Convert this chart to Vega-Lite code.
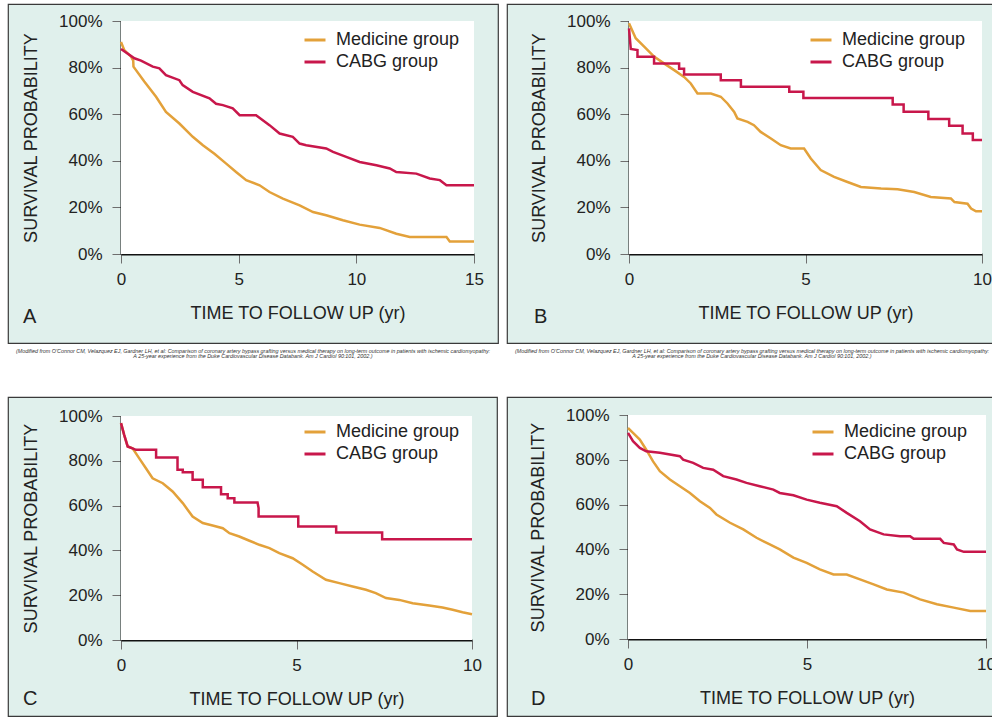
{
  "$schema": "https://vega.github.io/schema/vega-lite/v6.json",
  "background": "white",
  "padding": {"left": 7, "top": 3, "right": -3, "bottom": 0},
  "config": {
    "view": {"fill": "#e0f0ec", "stroke": "#3a3a3a", "strokeWidth": 1.2},
    "font": "Liberation Sans",
    "axis": {"grid": false, "domainColor": "#111111", "domainWidth": 2, "tickColor": "#6e6e6e", "tickWidth": 1, "tickSize": 9, "labelFont": "Liberation Sans", "labelFontSize": 17, "labelColor": "#222222", "titleFont": "Liberation Sans", "titleFontSize": 18, "titleFontWeight": "normal", "titleColor": "#222222", "labelFlush": false, "labelOverlap": false},
    "axisX": {"labelPadding": 8, "titlePadding": 17},
    "axisY": {"labelPadding": 10, "titlePadding": 18},
    "legend": {"title": null, "orient": "none", "symbolType": "stroke", "symbolSize": 441, "symbolStrokeWidth": 3, "labelFont": "Liberation Sans", "labelFontSize": 18, "labelColor": "#222222", "labelOffset": 9, "rowPadding": 1, "padding": 0}
  },
  "datasets": {
    "A": [
      {"group": "Medicine group", "t": 0, "s": 0.91}, {"group": "Medicine group", "t": 0.14, "s": 0.875}, {"group": "Medicine group", "t": 0.43, "s": 0.847}, {"group": "Medicine group", "t": 0.52, "s": 0.83}, {"group": "Medicine group", "t": 0.53, "s": 0.804}, {"group": "Medicine group", "t": 0.99, "s": 0.74}, {"group": "Medicine group", "t": 1.49, "s": 0.675}, {"group": "Medicine group", "t": 1.91, "s": 0.61}, {"group": "Medicine group", "t": 2.48, "s": 0.56}, {"group": "Medicine group", "t": 3.05, "s": 0.503}, {"group": "Medicine group", "t": 3.48, "s": 0.467}, {"group": "Medicine group", "t": 3.97, "s": 0.43}, {"group": "Medicine group", "t": 4.47, "s": 0.388}, {"group": "Medicine group", "t": 4.89, "s": 0.352}, {"group": "Medicine group", "t": 5.32, "s": 0.317}, {"group": "Medicine group", "t": 5.89, "s": 0.295}, {"group": "Medicine group", "t": 6.31, "s": 0.266}, {"group": "Medicine group", "t": 6.88, "s": 0.238}, {"group": "Medicine group", "t": 7.59, "s": 0.209}, {"group": "Medicine group", "t": 8.16, "s": 0.18}, {"group": "Medicine group", "t": 8.72, "s": 0.166}, {"group": "Medicine group", "t": 9.43, "s": 0.145}, {"group": "Medicine group", "t": 10.14, "s": 0.126}, {"group": "Medicine group", "t": 10.99, "s": 0.112}, {"group": "Medicine group", "t": 11.7, "s": 0.087}, {"group": "Medicine group", "t": 12.27, "s": 0.073}, {"group": "Medicine group", "t": 13.83, "s": 0.073}, {"group": "Medicine group", "t": 13.97, "s": 0.054}, {"group": "Medicine group", "t": 15, "s": 0.054},
      {"group": "CABG group", "t": 0, "s": 0.88}, {"group": "CABG group", "t": 0.57, "s": 0.84}, {"group": "CABG group", "t": 0.85, "s": 0.83}, {"group": "CABG group", "t": 1.35, "s": 0.804}, {"group": "CABG group", "t": 1.63, "s": 0.797}, {"group": "CABG group", "t": 1.91, "s": 0.768}, {"group": "CABG group", "t": 2.48, "s": 0.746}, {"group": "CABG group", "t": 2.62, "s": 0.725}, {"group": "CABG group", "t": 3.05, "s": 0.696}, {"group": "CABG group", "t": 3.76, "s": 0.668}, {"group": "CABG group", "t": 4.04, "s": 0.645}, {"group": "CABG group", "t": 4.33, "s": 0.639}, {"group": "CABG group", "t": 4.75, "s": 0.625}, {"group": "CABG group", "t": 5.04, "s": 0.596}, {"group": "CABG group", "t": 5.74, "s": 0.596}, {"group": "CABG group", "t": 6.31, "s": 0.553}, {"group": "CABG group", "t": 6.74, "s": 0.517}, {"group": "CABG group", "t": 7.3, "s": 0.503}, {"group": "CABG group", "t": 7.59, "s": 0.474}, {"group": "CABG group", "t": 7.87, "s": 0.467}, {"group": "CABG group", "t": 8.72, "s": 0.453}, {"group": "CABG group", "t": 9.01, "s": 0.438}, {"group": "CABG group", "t": 9.57, "s": 0.417}, {"group": "CABG group", "t": 10.14, "s": 0.395}, {"group": "CABG group", "t": 10.85, "s": 0.381}, {"group": "CABG group", "t": 11.42, "s": 0.367}, {"group": "CABG group", "t": 11.7, "s": 0.352}, {"group": "CABG group", "t": 12.55, "s": 0.345}, {"group": "CABG group", "t": 13.12, "s": 0.324}, {"group": "CABG group", "t": 13.55, "s": 0.317}, {"group": "CABG group", "t": 13.83, "s": 0.295}, {"group": "CABG group", "t": 15, "s": 0.295}
    ],
    "B": [
      {"group": "Medicine group", "t": 0, "s": 0.99}, {"group": "Medicine group", "t": 0.19, "s": 0.926}, {"group": "Medicine group", "t": 0.43, "s": 0.89}, {"group": "Medicine group", "t": 0.71, "s": 0.847}, {"group": "Medicine group", "t": 0.99, "s": 0.818}, {"group": "Medicine group", "t": 1.28, "s": 0.789}, {"group": "Medicine group", "t": 1.56, "s": 0.76}, {"group": "Medicine group", "t": 1.75, "s": 0.732}, {"group": "Medicine group", "t": 1.94, "s": 0.689}, {"group": "Medicine group", "t": 2.32, "s": 0.689}, {"group": "Medicine group", "t": 2.6, "s": 0.675}, {"group": "Medicine group", "t": 2.79, "s": 0.646}, {"group": "Medicine group", "t": 2.98, "s": 0.61}, {"group": "Medicine group", "t": 3.07, "s": 0.582}, {"group": "Medicine group", "t": 3.36, "s": 0.567}, {"group": "Medicine group", "t": 3.54, "s": 0.553}, {"group": "Medicine group", "t": 3.73, "s": 0.524}, {"group": "Medicine group", "t": 4.02, "s": 0.496}, {"group": "Medicine group", "t": 4.3, "s": 0.467}, {"group": "Medicine group", "t": 4.58, "s": 0.453}, {"group": "Medicine group", "t": 4.96, "s": 0.453}, {"group": "Medicine group", "t": 5.15, "s": 0.41}, {"group": "Medicine group", "t": 5.43, "s": 0.36}, {"group": "Medicine group", "t": 5.81, "s": 0.331}, {"group": "Medicine group", "t": 6.19, "s": 0.309}, {"group": "Medicine group", "t": 6.57, "s": 0.288}, {"group": "Medicine group", "t": 7.14, "s": 0.281}, {"group": "Medicine group", "t": 7.61, "s": 0.278}, {"group": "Medicine group", "t": 8.08, "s": 0.266}, {"group": "Medicine group", "t": 8.55, "s": 0.245}, {"group": "Medicine group", "t": 9.12, "s": 0.238}, {"group": "Medicine group", "t": 9.22, "s": 0.223}, {"group": "Medicine group", "t": 9.59, "s": 0.216}, {"group": "Medicine group", "t": 9.69, "s": 0.195}, {"group": "Medicine group", "t": 9.83, "s": 0.183}, {"group": "Medicine group", "t": 10, "s": 0.183},
      {"group": "CABG group", "t": 0, "s": 0.968}, {"group": "CABG group", "t": 0.05, "s": 0.88}, {"group": "CABG group", "t": 0.24, "s": 0.875}, {"group": "CABG group", "t": 0.24, "s": 0.847}, {"group": "CABG group", "t": 0.71, "s": 0.847}, {"group": "CABG group", "t": 0.71, "s": 0.818}, {"group": "CABG group", "t": 1.42, "s": 0.818}, {"group": "CABG group", "t": 1.42, "s": 0.795}, {"group": "CABG group", "t": 1.56, "s": 0.795}, {"group": "CABG group", "t": 1.56, "s": 0.77}, {"group": "CABG group", "t": 2.6, "s": 0.77}, {"group": "CABG group", "t": 2.6, "s": 0.746}, {"group": "CABG group", "t": 3.17, "s": 0.746}, {"group": "CABG group", "t": 3.17, "s": 0.718}, {"group": "CABG group", "t": 4.54, "s": 0.718}, {"group": "CABG group", "t": 4.54, "s": 0.696}, {"group": "CABG group", "t": 4.94, "s": 0.696}, {"group": "CABG group", "t": 4.94, "s": 0.67}, {"group": "CABG group", "t": 7.47, "s": 0.67}, {"group": "CABG group", "t": 7.47, "s": 0.642}, {"group": "CABG group", "t": 7.78, "s": 0.642}, {"group": "CABG group", "t": 7.78, "s": 0.61}, {"group": "CABG group", "t": 8.48, "s": 0.61}, {"group": "CABG group", "t": 8.48, "s": 0.579}, {"group": "CABG group", "t": 9.07, "s": 0.579}, {"group": "CABG group", "t": 9.07, "s": 0.55}, {"group": "CABG group", "t": 9.45, "s": 0.55}, {"group": "CABG group", "t": 9.45, "s": 0.517}, {"group": "CABG group", "t": 9.74, "s": 0.517}, {"group": "CABG group", "t": 9.74, "s": 0.489}, {"group": "CABG group", "t": 10, "s": 0.489}
    ],
    "C": [
      {"group": "Medicine group", "t": 0, "s": 0.968}, {"group": "Medicine group", "t": 0.09, "s": 0.916}, {"group": "Medicine group", "t": 0.19, "s": 0.864}, {"group": "Medicine group", "t": 0.33, "s": 0.856}, {"group": "Medicine group", "t": 0.52, "s": 0.811}, {"group": "Medicine group", "t": 0.71, "s": 0.767}, {"group": "Medicine group", "t": 0.9, "s": 0.722}, {"group": "Medicine group", "t": 1.19, "s": 0.7}, {"group": "Medicine group", "t": 1.47, "s": 0.663}, {"group": "Medicine group", "t": 1.76, "s": 0.611}, {"group": "Medicine group", "t": 2.04, "s": 0.551}, {"group": "Medicine group", "t": 2.33, "s": 0.522}, {"group": "Medicine group", "t": 2.61, "s": 0.511}, {"group": "Medicine group", "t": 2.9, "s": 0.499}, {"group": "Medicine group", "t": 3.09, "s": 0.477}, {"group": "Medicine group", "t": 3.37, "s": 0.462}, {"group": "Medicine group", "t": 3.66, "s": 0.443}, {"group": "Medicine group", "t": 3.94, "s": 0.425}, {"group": "Medicine group", "t": 4.23, "s": 0.41}, {"group": "Medicine group", "t": 4.51, "s": 0.388}, {"group": "Medicine group", "t": 4.89, "s": 0.365}, {"group": "Medicine group", "t": 5.18, "s": 0.336}, {"group": "Medicine group", "t": 5.46, "s": 0.306}, {"group": "Medicine group", "t": 5.84, "s": 0.269}, {"group": "Medicine group", "t": 6.22, "s": 0.254}, {"group": "Medicine group", "t": 6.6, "s": 0.239}, {"group": "Medicine group", "t": 6.98, "s": 0.224}, {"group": "Medicine group", "t": 7.26, "s": 0.209}, {"group": "Medicine group", "t": 7.55, "s": 0.187}, {"group": "Medicine group", "t": 7.93, "s": 0.179}, {"group": "Medicine group", "t": 8.31, "s": 0.164}, {"group": "Medicine group", "t": 8.78, "s": 0.154}, {"group": "Medicine group", "t": 9.16, "s": 0.145}, {"group": "Medicine group", "t": 9.45, "s": 0.135}, {"group": "Medicine group", "t": 9.73, "s": 0.124}, {"group": "Medicine group", "t": 10, "s": 0.115},
      {"group": "CABG group", "t": 0, "s": 0.968}, {"group": "CABG group", "t": 0.09, "s": 0.916}, {"group": "CABG group", "t": 0.19, "s": 0.864}, {"group": "CABG group", "t": 0.43, "s": 0.849}, {"group": "CABG group", "t": 1.0, "s": 0.849}, {"group": "CABG group", "t": 1.0, "s": 0.815}, {"group": "CABG group", "t": 1.61, "s": 0.815}, {"group": "CABG group", "t": 1.61, "s": 0.76}, {"group": "CABG group", "t": 1.76, "s": 0.76}, {"group": "CABG group", "t": 1.76, "s": 0.749}, {"group": "CABG group", "t": 2.04, "s": 0.749}, {"group": "CABG group", "t": 2.04, "s": 0.715}, {"group": "CABG group", "t": 2.33, "s": 0.715}, {"group": "CABG group", "t": 2.33, "s": 0.682}, {"group": "CABG group", "t": 2.85, "s": 0.682}, {"group": "CABG group", "t": 2.85, "s": 0.651}, {"group": "CABG group", "t": 3.04, "s": 0.651}, {"group": "CABG group", "t": 3.04, "s": 0.633}, {"group": "CABG group", "t": 3.23, "s": 0.633}, {"group": "CABG group", "t": 3.23, "s": 0.614}, {"group": "CABG group", "t": 3.89, "s": 0.614}, {"group": "CABG group", "t": 3.92, "s": 0.589}, {"group": "CABG group", "t": 3.92, "s": 0.551}, {"group": "CABG group", "t": 5.05, "s": 0.551}, {"group": "CABG group", "t": 5.05, "s": 0.507}, {"group": "CABG group", "t": 6.13, "s": 0.507}, {"group": "CABG group", "t": 6.13, "s": 0.48}, {"group": "CABG group", "t": 7.44, "s": 0.48}, {"group": "CABG group", "t": 7.44, "s": 0.45}, {"group": "CABG group", "t": 10, "s": 0.45}
    ],
    "D": [
      {"group": "Medicine group", "t": 0, "s": 0.942}, {"group": "Medicine group", "t": 0.14, "s": 0.92}, {"group": "Medicine group", "t": 0.33, "s": 0.89}, {"group": "Medicine group", "t": 0.51, "s": 0.845}, {"group": "Medicine group", "t": 0.7, "s": 0.793}, {"group": "Medicine group", "t": 0.89, "s": 0.749}, {"group": "Medicine group", "t": 1.17, "s": 0.712}, {"group": "Medicine group", "t": 1.45, "s": 0.682}, {"group": "Medicine group", "t": 1.73, "s": 0.652}, {"group": "Medicine group", "t": 2.01, "s": 0.615}, {"group": "Medicine group", "t": 2.29, "s": 0.585}, {"group": "Medicine group", "t": 2.47, "s": 0.556}, {"group": "Medicine group", "t": 2.85, "s": 0.519}, {"group": "Medicine group", "t": 3.22, "s": 0.489}, {"group": "Medicine group", "t": 3.59, "s": 0.452}, {"group": "Medicine group", "t": 3.96, "s": 0.422}, {"group": "Medicine group", "t": 4.24, "s": 0.4}, {"group": "Medicine group", "t": 4.62, "s": 0.363}, {"group": "Medicine group", "t": 4.99, "s": 0.34}, {"group": "Medicine group", "t": 5.36, "s": 0.311}, {"group": "Medicine group", "t": 5.74, "s": 0.288}, {"group": "Medicine group", "t": 6.11, "s": 0.288}, {"group": "Medicine group", "t": 6.48, "s": 0.266}, {"group": "Medicine group", "t": 6.86, "s": 0.244}, {"group": "Medicine group", "t": 7.23, "s": 0.221}, {"group": "Medicine group", "t": 7.7, "s": 0.207}, {"group": "Medicine group", "t": 8.16, "s": 0.177}, {"group": "Medicine group", "t": 8.63, "s": 0.155}, {"group": "Medicine group", "t": 9.1, "s": 0.14}, {"group": "Medicine group", "t": 9.56, "s": 0.125}, {"group": "Medicine group", "t": 10, "s": 0.125},
      {"group": "CABG group", "t": 0, "s": 0.92}, {"group": "CABG group", "t": 0.14, "s": 0.883}, {"group": "CABG group", "t": 0.33, "s": 0.853}, {"group": "CABG group", "t": 0.51, "s": 0.838}, {"group": "CABG group", "t": 0.89, "s": 0.831}, {"group": "CABG group", "t": 1.45, "s": 0.816}, {"group": "CABG group", "t": 1.54, "s": 0.801}, {"group": "CABG group", "t": 1.82, "s": 0.786}, {"group": "CABG group", "t": 2.1, "s": 0.764}, {"group": "CABG group", "t": 2.38, "s": 0.756}, {"group": "CABG group", "t": 2.66, "s": 0.727}, {"group": "CABG group", "t": 3.03, "s": 0.712}, {"group": "CABG group", "t": 3.31, "s": 0.697}, {"group": "CABG group", "t": 3.68, "s": 0.682}, {"group": "CABG group", "t": 4.06, "s": 0.667}, {"group": "CABG group", "t": 4.24, "s": 0.652}, {"group": "CABG group", "t": 4.62, "s": 0.642}, {"group": "CABG group", "t": 4.99, "s": 0.622}, {"group": "CABG group", "t": 5.36, "s": 0.608}, {"group": "CABG group", "t": 5.83, "s": 0.593}, {"group": "CABG group", "t": 6.11, "s": 0.563}, {"group": "CABG group", "t": 6.48, "s": 0.526}, {"group": "CABG group", "t": 6.76, "s": 0.489}, {"group": "CABG group", "t": 7.14, "s": 0.467}, {"group": "CABG group", "t": 7.6, "s": 0.459}, {"group": "CABG group", "t": 7.88, "s": 0.459}, {"group": "CABG group", "t": 7.98, "s": 0.447}, {"group": "CABG group", "t": 8.72, "s": 0.447}, {"group": "CABG group", "t": 8.82, "s": 0.429}, {"group": "CABG group", "t": 9.1, "s": 0.422}, {"group": "CABG group", "t": 9.19, "s": 0.4}, {"group": "CABG group", "t": 9.38, "s": 0.389}, {"group": "CABG group", "t": 10, "s": 0.389}
    ]
  },
  "spacing": 36,
  "resolve": {"scale": {"color": "independent", "x": "independent", "y": "independent"}, "legend": {"color": "independent"}},
  "vconcat": [
    {
      "spacing": 7,
      "resolve": {"scale": {"color": "independent", "x": "independent", "y": "independent"}, "legend": {"color": "independent"}},
      "hconcat": [
        {
          "title": {"text": ["(Modified from O'Connor CM, Velazquez EJ, Gardner LH, et al: Comparison of coronary artery bypass grafting versus medical therapy on long-term outcome in patients with ischemic cardiomyopathy:", "A 25-year experience from the Duke Cardiovascular Disease Databank. Am J Cardiol 90:101, 2002.)"], "orient": "bottom", "anchor": "middle", "frame": "bounds", "offset": 5, "font": "Liberation Sans", "fontSize": 5.4, "fontStyle": "italic", "fontWeight": "normal", "lineHeight": 5.5, "color": "#333333"},
          "vconcat": [
            {
              "width": 490, "height": 339,
              "title": {"text": "A", "orient": "bottom", "anchor": "start", "frame": "group", "offset": -36, "dx": 15, "font": "Liberation Sans", "fontSize": 20, "fontWeight": "normal", "color": "#222222"},
              "layer": [
                {"data": {"values": [{}]}, "mark": {"type": "rect", "fill": "white"}, "encoding": {"x": {"datum": 0, "type": "quantitative"}, "x2": {"datum": 15}, "y": {"datum": 0, "type": "quantitative"}, "y2": {"datum": 1}}},
                {"data": {"name": "A"}, "mark": {"type": "line", "strokeWidth": 2.5},
                 "encoding": {
                   "x": {"field": "t", "type": "quantitative", "scale": {"domain": [0, 15], "range": [113, 466], "nice": false, "zero": false}, "axis": {"title": "TIME TO FOLLOW UP (yr)", "values": [0, 5, 10, 15], "offset": -89}},
                   "y": {"field": "s", "type": "quantitative", "scale": {"domain": [0, 1], "range": [250, 17], "nice": false}, "axis": {"title": "SURVIVAL PROBABILITY", "values": [0, 0.2, 0.4, 0.6, 0.8, 1], "format": ".0%", "offset": -113}},
                   "color": {"field": "group", "type": "nominal", "scale": {"domain": ["Medicine group", "CABG group"], "range": ["#e3a13a", "#c8174b"]}, "legend": {"legendX": 295, "legendY": 24}}
                 }}
              ]
            }
          ]
        },
        {
          "title": {"text": ["(Modified from O'Connor CM, Velazquez EJ, Gardner LH, et al: Comparison of coronary artery bypass grafting versus medical therapy on long-term outcome in patients with ischemic cardiomyopathy:", "A 25-year experience from the Duke Cardiovascular Disease Databank. Am J Cardiol 90:101, 2002.)"], "orient": "bottom", "anchor": "middle", "frame": "bounds", "offset": 5, "font": "Liberation Sans", "fontSize": 5.4, "fontStyle": "italic", "fontWeight": "normal", "lineHeight": 5.5, "color": "#333333"},
          "vconcat": [
            {
              "width": 490, "height": 339,
              "title": {"text": "B", "orient": "bottom", "anchor": "start", "frame": "group", "offset": -36, "dx": 27, "font": "Liberation Sans", "fontSize": 20, "fontWeight": "normal", "color": "#222222"},
              "layer": [
                {"data": {"values": [{}]}, "mark": {"type": "rect", "fill": "white"}, "encoding": {"x": {"datum": 0, "type": "quantitative"}, "x2": {"datum": 10}, "y": {"datum": 0, "type": "quantitative"}, "y2": {"datum": 1}}},
                {"data": {"name": "B"}, "mark": {"type": "line", "strokeWidth": 2.5},
                 "encoding": {
                   "x": {"field": "t", "type": "quantitative", "scale": {"domain": [0, 10], "range": [122, 475], "nice": false, "zero": false}, "axis": {"title": "TIME TO FOLLOW UP (yr)", "values": [0, 5, 10], "offset": -89}},
                   "y": {"field": "s", "type": "quantitative", "scale": {"domain": [0, 1], "range": [250, 17], "nice": false}, "axis": {"title": "SURVIVAL PROBABILITY", "values": [0, 0.2, 0.4, 0.6, 0.8, 1], "format": ".0%", "offset": -122}},
                   "color": {"field": "group", "type": "nominal", "scale": {"domain": ["Medicine group", "CABG group"], "range": ["#e3a13a", "#c8174b"]}, "legend": {"legendX": 302, "legendY": 24}}
                 }}
              ]
            }
          ]
        }
      ]
    },
    {
      "spacing": 8,
      "resolve": {"scale": {"color": "independent", "x": "independent", "y": "independent"}, "legend": {"color": "independent"}},
      "hconcat": [
        {
          "width": 489, "height": 319,
          "title": {"text": "C", "orient": "bottom", "anchor": "start", "frame": "group", "offset": -27, "dx": 15, "font": "Liberation Sans", "fontSize": 20, "fontWeight": "normal", "color": "#222222"},
          "layer": [
            {"data": {"values": [{}]}, "mark": {"type": "rect", "fill": "white"}, "encoding": {"x": {"datum": 0, "type": "quantitative"}, "x2": {"datum": 10}, "y": {"datum": 0, "type": "quantitative"}, "y2": {"datum": 1}}},
            {"data": {"name": "C"}, "mark": {"type": "line", "strokeWidth": 2.5},
             "encoding": {
               "x": {"field": "t", "type": "quantitative", "scale": {"domain": [0, 10], "range": [113, 464], "nice": false, "zero": false}, "axis": {"title": "TIME TO FOLLOW UP (yr)", "values": [0, 5, 10], "offset": -76}},
               "y": {"field": "s", "type": "quantitative", "scale": {"domain": [0, 1], "range": [243, 19], "nice": false}, "axis": {"title": "SURVIVAL PROBABILITY", "values": [0, 0.2, 0.4, 0.6, 0.8, 1], "format": ".0%", "offset": -113}},
               "color": {"field": "group", "type": "nominal", "scale": {"domain": ["Medicine group", "CABG group"], "range": ["#e3a13a", "#c8174b"]}, "legend": {"legendX": 295, "legendY": 23}}
             }}
          ]
        },
        {
          "width": 490, "height": 319,
          "title": {"text": "D", "orient": "bottom", "anchor": "start", "frame": "group", "offset": -27, "dx": 24, "font": "Liberation Sans", "fontSize": 20, "fontWeight": "normal", "color": "#222222"},
          "layer": [
            {"data": {"values": [{}]}, "mark": {"type": "rect", "fill": "white"}, "encoding": {"x": {"datum": 0, "type": "quantitative"}, "x2": {"datum": 10}, "y": {"datum": 0, "type": "quantitative"}, "y2": {"datum": 1}}},
            {"data": {"name": "D"}, "mark": {"type": "line", "strokeWidth": 2.5},
             "encoding": {
               "x": {"field": "t", "type": "quantitative", "scale": {"domain": [0, 10], "range": [121, 479], "nice": false, "zero": false}, "axis": {"title": "TIME TO FOLLOW UP (yr)", "values": [0, 5, 10], "offset": -77}},
               "y": {"field": "s", "type": "quantitative", "scale": {"domain": [0, 1], "range": [242, 18], "nice": false}, "axis": {"title": "SURVIVAL PROBABILITY", "values": [0, 0.2, 0.4, 0.6, 0.8, 1], "format": ".0%", "offset": -121}},
               "color": {"field": "group", "type": "nominal", "scale": {"domain": ["Medicine group", "CABG group"], "range": ["#e3a13a", "#c8174b"]}, "legend": {"legendX": 304, "legendY": 23}}
             }}
          ]
        }
      ]
    }
  ]
}
